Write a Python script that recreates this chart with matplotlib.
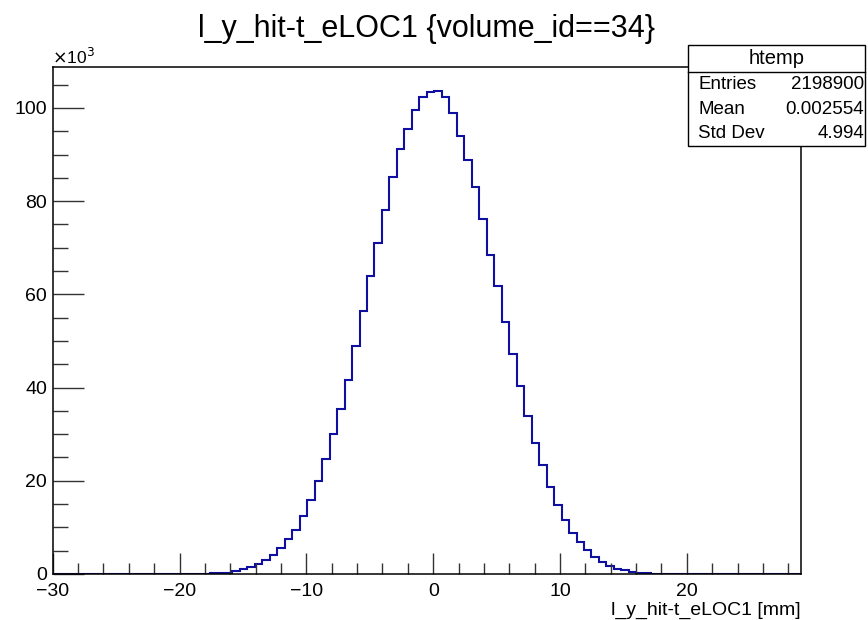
import numpy as np
import matplotlib.pyplot as plt
from matplotlib.ticker import MultipleLocator, FuncFormatter

plt.rcParams['font.family'] = ['Liberation Sans', 'DejaVu Sans']

# histogram htemp: 100 bins, range
x_lo, x_hi, n_bins = -30.0, 29.0, 100
# bin contents (in units of 10^3 entries), bins 20..80, rest empty
first_bin = 20
counts_k = [0.1, 0.12, 0.15, 0.3, 0.65, 1.0, 1.5, 2.15, 2.9, 4.15,
            5.6, 7.5, 9.5, 12.4, 15.9, 19.9, 24.7, 30.0, 35.4, 41.7,
            48.9, 56.5, 63.9, 71.0, 78.0, 85.1, 91.2, 95.5, 99.6, 102.4,
            103.4, 103.6, 102.4, 99.0, 94.0, 88.9, 83.1, 76.2, 68.5, 61.7,
            54.1, 47.2, 40.3, 33.8, 28.2, 23.3, 18.7, 14.7, 11.5, 8.9,
            6.9, 5.2, 3.7, 2.6, 1.7, 1.15, 0.8, 0.5, 0.25, 0.12,
            0.1]

title = 'l_y_hit-t_eLOC1 {volume_id==34}'
xlabel = 'l_y_hit-t_eLOC1 [mm]'
stats_name = 'htemp'
stats_rows = [('Entries', '2198900'), ('Mean', '0.002554'), ('Std Dev', '4.994')]

edges = np.linspace(x_lo, x_hi, n_bins + 1)
contents = np.zeros(n_bins)
contents[first_bin:first_bin + len(counts_k)] = np.array(counts_k) * 1000

fig = plt.figure(figsize=(8.68, 6.2), dpi=100)
ax = fig.add_axes([52.7/868, 1 - 574/620, (801 - 52.7)/868, (574 - 67)/620])

ax.stairs(contents, edges, color='#1010a0', linewidth=1.5)

ax.set_xlim(x_lo, x_hi)
ax.set_ylim(0, contents.max() * 1.05)

ax.xaxis.set_major_locator(MultipleLocator(10))
ax.xaxis.set_minor_locator(MultipleLocator(2))
ax.yaxis.set_major_locator(MultipleLocator(20000))
ax.yaxis.set_minor_locator(MultipleLocator(5000))
ax.yaxis.set_major_formatter(FuncFormatter(lambda v, p: f'{v/1000:g}'))
ax.tick_params(which='both', direction='in', top=False, right=False,
               labelsize=14, width=1.0, color='#333333')
ax.tick_params(axis='x', which='major', length=15, pad=6.5)
ax.tick_params(axis='x', which='minor', length=8)
ax.tick_params(axis='y', which='major', length=22, pad=4)
ax.tick_params(axis='y', which='minor', length=11)
for s in ax.spines.values():
    s.set_linewidth(1.1)

fig.text(426/868, 1 - 29/620, title, ha='center', va='center', fontsize=22)
fig.text(801/868, 1 - 610/620, xlabel, ha='right', va='center', fontsize=14)
fig.text(52/868, 1 - 57/620, r'$\times$10$^{3}$', ha='left', va='center', fontsize=12.5)

# stats box
bx0, bx1 = 688/868, 865/868
by_top, by_head, by_bot = 1 - 45/620, 1 - 72/620, 1 - 146/620
fig.patches.append(plt.Rectangle((bx0, by_bot), bx1 - bx0, by_top - by_bot,
                                 transform=fig.transFigure, facecolor='white',
                                 edgecolor='black', linewidth=1.0, zorder=5))
fig.lines.append(plt.Line2D([bx0, bx1], [by_head, by_head], transform=fig.transFigure,
                            color='black', linewidth=1.0, zorder=6))
fig.text((bx0 + bx1)/2, (by_top + by_head)/2, stats_name, ha='center', va='center',
         fontsize=14.5, zorder=7)
row_h = (by_head - by_bot) / len(stats_rows)
for i, (k, v) in enumerate(stats_rows):
    yc = by_head - row_h * (i + 0.5)
    fig.text(bx0 + 10/868, yc, k, ha='left', va='center', fontsize=13.5, zorder=7)
    fig.text(bx1 - 1/868, yc, v, ha='right', va='center', fontsize=13.5, zorder=7)

fig.savefig('out.png', dpi=100)
